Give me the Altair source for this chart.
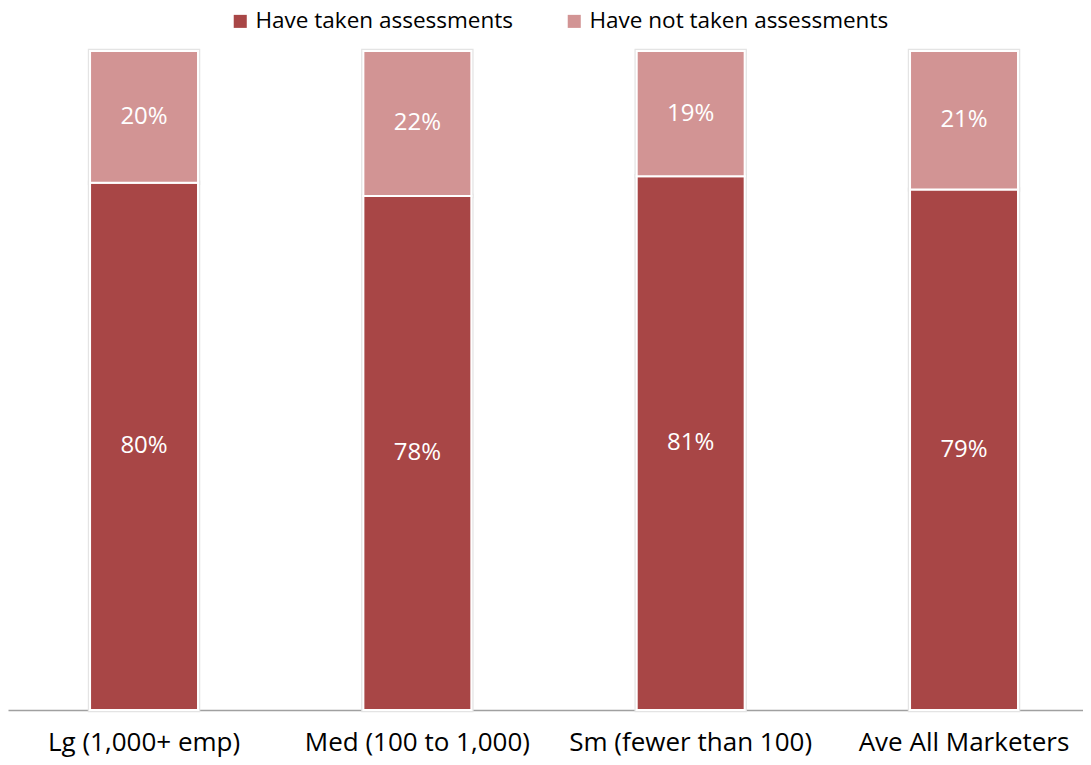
import altair as alt
import pandas as pd

categories = ["Lg (1,000+ emp)", "Med (100 to 1,000)", "Sm (fewer than 100)", "Ave All Marketers"]
taken = [80, 78, 81, 79]
not_taken = [20, 22, 19, 21]
series = ["Have taken assessments", "Have not taken assessments"]
colors = ["#A84646", "#D29494"]

rows = []
for c, t, n in zip(categories, taken, not_taken):
    rows.append({"cat": c, "series": series[0], "value": t, "ord": 0})
    rows.append({"cat": c, "series": series[1], "value": n, "ord": 1})
df = pd.DataFrame(rows)

FONT = "Open Sans"

base = alt.Chart(df).transform_stack(
    stack="value", groupby=["cat"], as_=["v0", "v1"], sort=[alt.SortField("ord")]
).transform_calculate(
    mid="(datum.v0 + datum.v1) / 2",
    label="datum.value + '%'"
)

xscale = alt.Scale(paddingInner=0.605, paddingOuter=0.269, align=0.558)

xenc = alt.X("cat:N", sort=categories, title=None, scale=xscale,
             axis=alt.Axis(labelAngle=0, ticks=False, domainColor="#A0A0A0", domainWidth=1.5,
                           labelFontSize=26, labelColor="#000000", labelFont=FONT,
                           labelPadding=19, labelLimit=0))
yscale = alt.Scale(domain=[0, 100], nice=False)

shadow = base.mark_bar(stroke="#E4E4E4", strokeWidth=4.5, color="#E4E4E4").encode(
    x=xenc,
    y=alt.Y("v0:Q", scale=yscale, axis=None),
    y2="v1:Q",
)

bars = base.mark_bar(stroke="white", strokeWidth=2).encode(
    x=xenc,
    y=alt.Y("v0:Q", scale=yscale, axis=None),
    y2="v1:Q",
    color=alt.Color("series:N", sort=series,
                    scale=alt.Scale(domain=series, range=colors),
                    legend=alt.Legend(orient="none", legendX=221, legendY=-41,
                                      title=None, symbolType="square",
                                      symbolSize=170, symbolStrokeWidth=0,
                                      labelFontSize=22.5, labelFont=FONT, labelColor="#000000",
                                      labelLimit=0, columnPadding=50, direction="horizontal")),
)

text = base.mark_text(color="white", fontSize=24, font=FONT).encode(
    x=alt.X("cat:N", sort=categories),
    y=alt.Y("mid:Q"),
    text="label:N",
)

chart = alt.layer(shadow, bars, text).properties(
    width=1075, height=659,
    autosize=alt.AutoSizeParams(type="none"),
    padding={"top": 43, "left": 0, "right": 0, "bottom": 47}
).configure_view(stroke=None).configure_legend(padding=0)

chart.save("out.html", embed_options={"renderer": "svg", "actions": False})
